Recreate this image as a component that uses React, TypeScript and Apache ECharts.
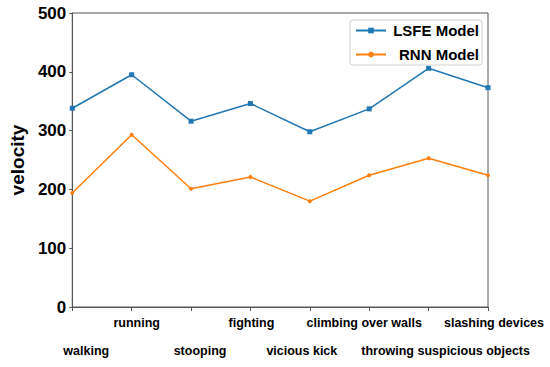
import React, { useEffect, useRef } from "react";
import * as echarts from "echarts";

const categories = [
  "walking",
  "running",
  "stooping",
  "fighting",
  "vicious kick",
  "climbing over walls",
  "throwing suspicious objects",
  "slashing devices",
];
const lsfeValues = [338, 395, 316, 346, 298, 337, 406, 373];
const rnnValues = [194, 293, 201, 221, 180, 224, 253, 224];
const yTicks = { min: 0, max: 500, interval: 100 };

// label horizontal nudges (style only)
const labelShift = [14, 5, 9, 1, -8, -5, 17, 6];

export default function App() {
  const ref = useRef<HTMLDivElement>(null);
  useEffect(() => {
    if (!ref.current) return;
    const chart = echarts.init(ref.current, undefined, { renderer: "svg" });
    const font = "Liberation Sans, Arial, sans-serif";
    const rich: Record<string, any> = {};
    labelShift.forEach((dx, i) => {
      const low = i % 2 === 0;
      rich["s" + i] = {
        fontFamily: font,
        fontWeight: "bold",
        fontSize: 12.5,
        color: "#000",
        padding: [low ? 28 : 0, dx < 0 ? -2 * dx : 0, 0, dx > 0 ? 2 * dx : 0],
      };
    });
    chart.setOption({
      animation: false,
      backgroundColor: "#ffffff",
      grid: {
        left: 65,
        right: 62,
        top: 13,
        bottom: 60,
        show: true,
        borderColor: "#555",
        borderWidth: 1,
      },
      legend: {
        orient: "vertical",
        right: 68,
        top: 20,
        padding: [3, 3, 3, 5],
        itemGap: 9,
        itemWidth: 30,
        itemHeight: 7,
        borderColor: "#d0d0d0",
        borderWidth: 1,
        borderRadius: 3,
        backgroundColor: "#fff",
        formatter: (name: string) => `{r|${name}}`,
        textStyle: {
          fontFamily: font,
          fontWeight: "bold",
          fontSize: 15,
          color: "#000",
          rich: {
            r: {
              fontFamily: font,
              fontWeight: "bold",
              fontSize: 15,
              color: "#000",
              width: 88,
              align: "right",
            },
          },
        },
        data: ["LSFE Model", "RNN Model"],
      },
      xAxis: {
        type: "category",
        data: categories,
        boundaryGap: false,
        axisLine: { lineStyle: { color: "#555", width: 1 } },
        axisTick: { show: true, length: 4, lineStyle: { color: "#555" } },
        axisLabel: {
          interval: 0,
          margin: 9,
          fontFamily: font,
          fontWeight: "bold",
          fontSize: 12.5,
          color: "#000",
          showMinLabel: true,
          showMaxLabel: true,
          hideOverlap: false,
          formatter: (v: string, i: number) => `{s${i}|${v}}`,
          rich,
        },
        splitLine: { show: false },
      },
      yAxis: {
        type: "value",
        min: yTicks.min,
        max: yTicks.max,
        interval: yTicks.interval,
        name: "velocity",
        nameLocation: "middle",
        nameGap: 40,
        nameTextStyle: { fontFamily: font, fontWeight: "bold", fontSize: 19, color: "#000" },
        axisLine: { show: true, lineStyle: { color: "#555", width: 1 } },
        axisTick: { show: true, length: 3, lineStyle: { color: "#555" } },
        axisLabel: {
          margin: 6,
          fontFamily: font,
          fontWeight: "bold",
          fontSize: 17,
          color: "#000",
        },
        splitLine: { show: false },
      },
      series: [
        {
          name: "LSFE Model",
          type: "line",
          data: lsfeValues,
          color: "#1f77b4",
          symbol: "rect",
          symbolSize: 5,
          lineStyle: { width: 1.5 },
          itemStyle: { color: "#1f77b4" },
        },
        {
          name: "RNN Model",
          type: "line",
          data: rnnValues,
          color: "#ff7f0e",
          symbol: "circle",
          symbolSize: 4,
          lineStyle: { width: 1.5 },
          itemStyle: { color: "#ff7f0e" },
        },
      ],
    });
    return () => chart.dispose();
  }, []);
  return <div ref={ref} style={{ width: 550, height: 367, position: "absolute", left: 0, top: 0 }} />;
}
